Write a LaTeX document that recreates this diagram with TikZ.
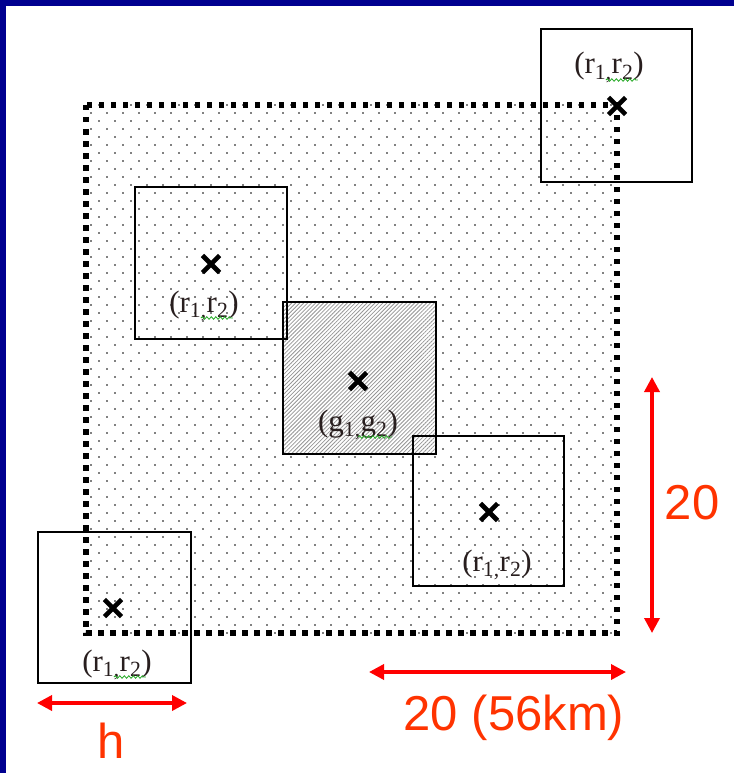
\documentclass[tikz,border=0pt]{standalone}
\usepackage{fontspec}
\setmainfont{Liberation Sans}
\newfontfamily\lserif{Liberation Serif}
\usetikzlibrary{arrows.meta,patterns.meta,decorations.pathmorphing,shapes.misc}
\definecolor{frameblue}{RGB}{0,0,144}
\definecolor{dimred}{RGB}{255,0,0}
\definecolor{dimtext}{RGB}{255,51,0}
\definecolor{hatchgray}{RGB}{150,150,150}
\definecolor{spellgreen}{RGB}{40,170,40}
\definecolor{labink}{RGB}{40,30,30}
\begin{document}
\begin{tikzpicture}[x=1pt,y=-1pt,
  win/.style={draw=black,line width=1.5pt},
  xmark/.style={cross out,draw=black,line width=4.6pt,minimum size=12.5pt,inner sep=0pt},
  lab/.style={anchor=base,inner sep=0pt,text=labink,font=\lserif\fontsize{31}{34}\selectfont},
  spell/.style={draw=spellgreen,line width=0.8pt,decorate,decoration={snake,segment length=4.5pt,amplitude=1.3pt}},
  dim/.style={draw=dimred,line width=3.5pt,{Triangle[length=15pt,width=15pt]}-{Triangle[length=15pt,width=15pt]}},
  dimlab/.style={anchor=base,inner sep=0pt,text=dimtext,font=\fontsize{49}{54}\selectfont}]
\useasboundingbox (0,0) rectangle (734,773);
\fill[white] (0,0) rectangle (734,773);
% blue frame
\fill[frameblue] (0,0) rectangle (734,6);
\fill[frameblue] (0,0) rectangle (6,773);
% dot fill of the big square
\begin{scope}
  \clip (86,105) rectangle (617,633);
  \foreach \j in {0,...,66}{
    \pgfmathsetmacro{\xo}{ifthenelse(mod(\j,2)==1,91,83)}
    \pgfmathsetmacro{\yy}{105+8*\j}
    \foreach \k in {0,...,34}{
      \fill (\xo+16*\k,\yy) circle (0.95);
    }
  }
\end{scope}
% hatched square
\fill[white] (283,302) rectangle (436,454);
\fill[pattern={Lines[angle=45,distance=2.8pt,line width=0.8pt]},pattern color=hatchgray] (283,302) rectangle (436,454);
% window squares
\draw[win] (541,29) rectangle (692,182);
\draw[win] (135,187) rectangle (287,339);
\draw[win] (283,302) rectangle (436,454);
\draw[win] (413,436) rectangle (564,586);
\draw[win] (38,532) rectangle (191,683);
% dotted border
\draw[line width=5.5pt,dash pattern=on 5.5pt off 6.5pt] (86,105) rectangle (617,633);
% crosses
\node[xmark] (xA) at (617,106) {};
\node[xmark] (xB) at (211,264) {};
\node[xmark] (xG) at (358,381) {};
\node[xmark] (xC) at (489,512) {};
\node[xmark] (xD) at (113,608) {};
% labels
\node[lab] (labA) at (609,74) {(r\textsubscript{1,}r\textsubscript{2})};
\node[lab] (labB) at (204,312) {(r\textsubscript{1,}r\textsubscript{2})};
\node[lab] (labG) at (358,431) {(g\textsubscript{1,}g\textsubscript{2})};
\node[lab] (labC) at (497,571) {(r\textsubscript{1,}r\textsubscript{2})};
\node[lab] (labD) at (117,671) {(r\textsubscript{1,}r\textsubscript{2})};
\draw[spell] ([shift={(-38,6)}]labA.base east) -- ([shift={(-6,6)}]labA.base east);
\draw[spell] ([shift={(-38,6)}]labB.base east) -- ([shift={(-6,6)}]labB.base east);
\draw[spell] ([shift={(-40,6)}]labG.base east) -- ([shift={(-6,6)}]labG.base east);
\draw[spell] ([shift={(-38,6)}]labD.base east) -- ([shift={(-6,6)}]labD.base east);
% dimension arrows
\coordinate (hL) at (37,703);
\coordinate (hR) at (187,703);
\coordinate (wL) at (369,672);
\coordinate (wR) at (626,672);
\coordinate (vT) at (652,377);
\coordinate (vB) at (652,633);
\draw[dim] (hL) -- (hR);
\draw[dim] (wL) -- (wR);
\draw[dim] (vT) -- (vB);
\node[dimlab] (hlab) at (111,758) {h};
\node[dimlab] (wlab) at (514,730) {20 (56km)};
\node[dimlab] (vlab) at (692,519) {20};
\end{tikzpicture}
\end{document}
